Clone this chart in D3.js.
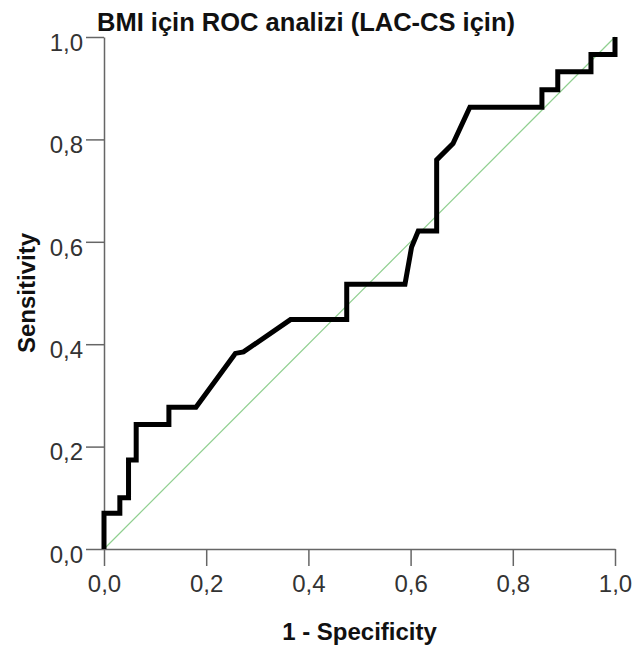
<!DOCTYPE html>
<html>
<head>
<meta charset="utf-8">
<script src="https://cdn.jsdelivr.net/npm/d3@7"></script>
<style>
	body { margin: 0; background: #fff; }
	text { font-family: "Liberation Sans", Arial, sans-serif; }
</style>
</head>
<body>
<div id="canvas"></div>
<script>
// Data
const fpr = [0, 0, 0.031, 0.031, 0.048, 0.048, 0.063, 0.063, 0.127, 0.127, 0.18, 0.257, 0.273, 0.365, 0.475, 0.475, 0.589, 0.602, 0.615, 0.651, 0.651, 0.683, 0.716, 0.857, 0.857, 0.888, 0.888, 0.953, 0.953, 1, 1]
const tpr = [0, 0.07, 0.07, 0.10, 0.10, 0.174, 0.174, 0.243, 0.243, 0.277, 0.277, 0.382, 0.385, 0.448, 0.448, 0.517, 0.517, 0.59, 0.621, 0.621, 0.76, 0.792, 0.863, 0.863, 0.897, 0.897, 0.932, 0.932, 0.966, 0.966, 1]
const tickValues = [0, 0.2, 0.4, 0.6, 0.8, 1.0]
const diagonal = [0, 1]

const colors = {
	curve: '#000',
	ref: '#8fcf8f',
	axis: '#666',
	label: '#333',
	title: '#111',
}
const width = 637, height = 647
const plot = {left: 104, right: 615, top: 37, bottom: 549}

const svg = d3.select('#canvas').append('svg').attr('width', width).attr('height', height)

const x = d3.scaleLinear().domain([0, 1]).range([plot.left, plot.right])
const y = d3.scaleLinear().domain([0, 1]).range([plot.bottom, plot.top])

const fmt = d3.formatLocale({decimal: ',', thousands: '.', grouping: [3], currency: ['', '']}).format('.1f')

// reference line
svg.append('line')
	.attr('x1', x(diagonal[0])).attr('y1', y(diagonal[0]))
	.attr('x2', x(diagonal[1])).attr('y2', y(diagonal[1]))
	.attr('stroke', colors.ref)
	.attr('stroke-width', 1.2)

// axes
const xAxis = svg.append('g')
	.attr('transform', `translate(0,${plot.bottom})`)
	.call(d3.axisBottom(x).tickValues(tickValues).tickFormat(fmt).tickSize(17).tickPadding(9).tickSizeOuter(0))
const yAxis = svg.append('g')
	.attr('transform', `translate(${plot.left},0)`)
	.call(d3.axisLeft(y).tickValues(tickValues).tickFormat(fmt).tickSize(18).tickPadding(3).tickSizeOuter(0))

;[xAxis, yAxis].forEach(g => {
	g.select('.domain').attr('stroke', colors.axis).attr('stroke-width', 1.5)
	g.selectAll('.tick line').attr('stroke', colors.axis).attr('stroke-width', 1.5)
	g.selectAll('.tick text')
		.attr('font-family', '"Liberation Sans", Arial, sans-serif')
		.attr('font-size', 24)
		.attr('fill', colors.label)
})
yAxis.selectAll('.tick text').attr('dy', '0.55em')

// ROC curve
const rocPoints = fpr.map((d, i) => [d, tpr[i]])
const rocLine = d3.line()
	.x(d => x(d[0]))
	.y(d => y(d[1]))
svg.append('path')
	.attr('d', rocLine(rocPoints))
	.attr('fill', 'none')
	.attr('stroke', colors.curve)
	.attr('stroke-width', 5)
	.attr('stroke-linejoin', 'miter')

// titles
svg.append('text')
	.attr('x', 306).attr('y', 31)
	.attr('text-anchor', 'middle')
	.attr('font-size', 25.5).attr('font-weight', 'bold')
	.attr('fill', colors.title)
	.text('BMI için ROC analizi (LAC-CS için)')

svg.append('text')
	.attr('x', (plot.left + plot.right) / 2).attr('y', 640)
	.attr('text-anchor', 'middle')
	.attr('font-size', 24).attr('font-weight', 'bold')
	.attr('fill', colors.title)
	.text('1 - Specificity')

svg.append('text')
	.attr('transform', `translate(35,${(plot.top + plot.bottom) / 2}) rotate(-90)`)
	.attr('text-anchor', 'middle')
	.attr('font-size', 24).attr('font-weight', 'bold')
	.attr('fill', colors.title)
	.text('Sensitivity')
</script>
</body>
</html>
